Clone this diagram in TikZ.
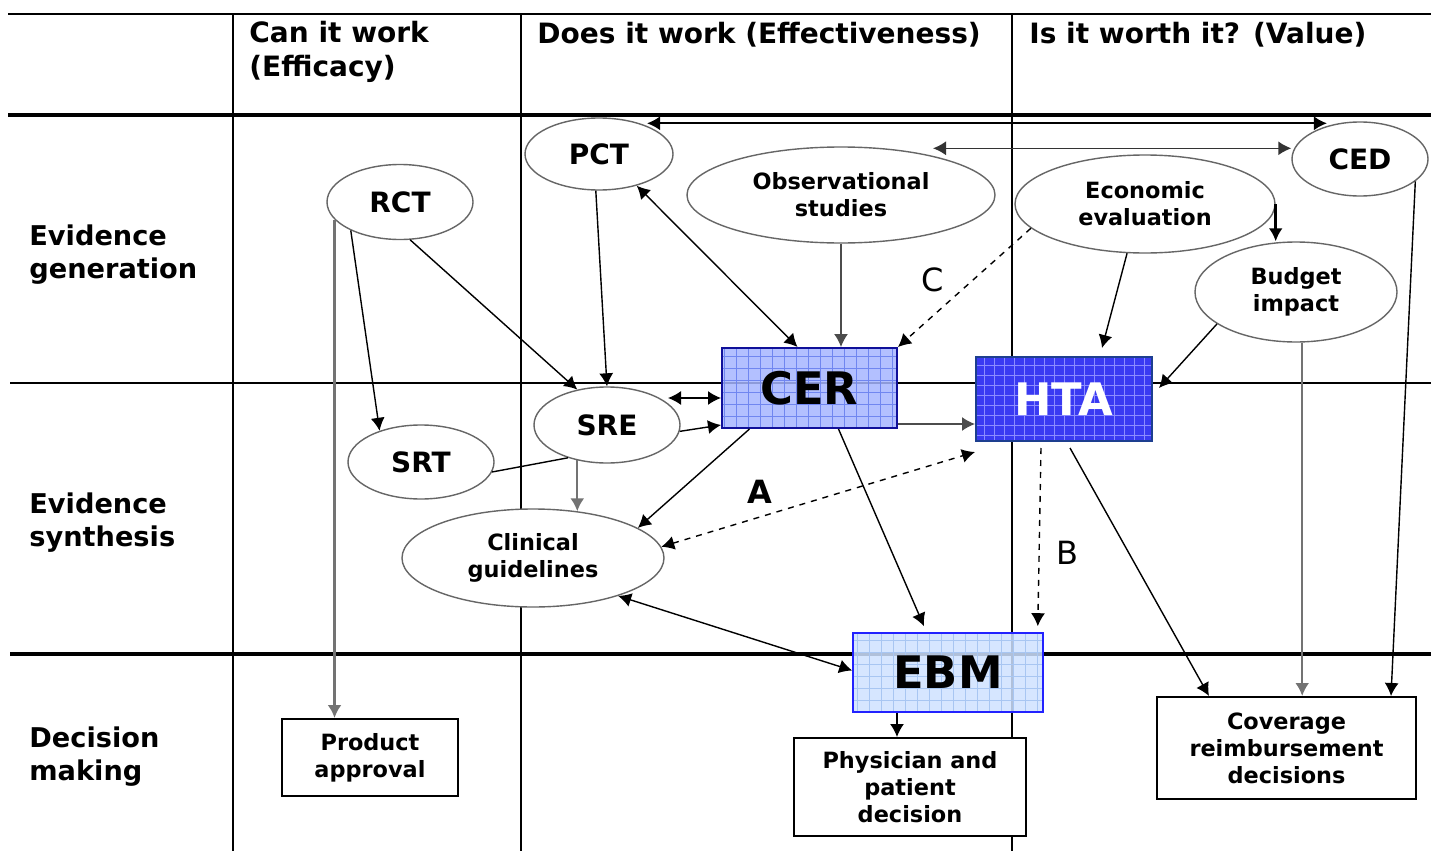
\documentclass[tikz,border=0pt]{standalone}
\usepackage{fontspec}
\setmainfont{DejaVu Sans}
\usetikzlibrary{arrows.meta,shapes.geometric,calc}
\newcommand\fHdr{\fontsize{14}{17}\selectfont}
\newcommand\fRow{\fontsize{13.6}{16.5}\selectfont}
\newcommand\fSml{\fontsize{11.2}{13.5}\selectfont}
\newcommand\fMid{\fontsize{14}{17}\selectfont}
\newcommand\fBig{\fontsize{22.4}{26}\selectfont}
\newcommand\fLbl{\fontsize{16}{19}\selectfont}
\definecolor{cerfill}{HTML}{A6B6FF}
\definecolor{cergrid}{HTML}{7086F0}
\definecolor{cerdraw}{HTML}{10109A}
\definecolor{htafill}{HTML}{3A3AF2}
\definecolor{htagrid}{HTML}{8C8CFF}
\definecolor{htadraw}{HTML}{1D3F8F}
\definecolor{ebmfill}{HTML}{CFE2FF}
\definecolor{ebmgrid}{HTML}{A8C6F2}
\definecolor{ebmdraw}{HTML}{2222FF}
\begin{document}
\begin{tikzpicture}[x=0.5pt,y=-0.5pt,
  every node/.style={font=\bfseries},
  ell/.style={ellipse, draw=black!60, line width=0.7pt, fill=white, inner sep=0pt, align=center},
  dbox/.style={rectangle, draw=black, line width=1pt, fill=white, align=center, inner sep=0pt, font=\bfseries\fSml},
  gbox/.style={rectangle, inner sep=0pt, font=\bfseries\fBig},
  arr/.style={arrows={-Latex[length=6.5pt,width=7pt]}, line width=0.7pt},
  darr/.style={arrows={Latex[length=6.5pt,width=7pt]-Latex[length=6.5pt,width=7pt]}, line width=0.7pt},
  tline/.style={line width=1pt},
  Tline/.style={line width=1.9pt},
  lbl/.style={inner sep=0pt, anchor=west, align=left},
]
% background / bounding box
\fill[white] (0,0) rectangle (1431,851);
\useasboundingbox (0,0) rectangle (1431,851);

% table lines
\draw[tline] (8,14) -- (1431,14);
\draw[Tline] (8,115) -- (1431,115);
\draw[tline] (10,383) -- (1431,383);
\draw[Tline] (10,654) -- (1431,654);
\draw[tline] (233,14) -- (233,851);
\draw[tline] (521,14) -- (521,851);
\draw[tline] (1012,14) -- (1012,851);

% headers
\node[lbl, font=\bfseries\fHdr] (h1) at (249,52) {Can it work\\(Efficacy)};
\node[lbl, font=\bfseries\fHdr] (h2) at (537,35) {Does it work (Effectiveness)};
\node[lbl, font=\bfseries\fHdr] (h3) at (1029,35) {Is it worth it? (Value)};
\node[lbl, font=\bfseries\fRow] (r1) at (29,255) {Evidence\\generation};
\node[lbl, font=\bfseries\fRow] (r2) at (29,523) {Evidence\\synthesis};
\node[lbl, font=\bfseries\fRow] (r3) at (29,757) {Decision\\making};

% ellipse nodes
\node[ell, font=\bfseries\fMid, minimum width=73pt, minimum height=37.5pt] (RCT) at (400,202) {RCT};
\node[ell, font=\bfseries\fMid, minimum width=73pt, minimum height=37pt] (SRT) at (421,462) {SRT};
\node[ell, font=\bfseries\fMid, minimum width=73pt, minimum height=38pt] (SRE) at (607,425) {SRE};
\node[ell, font=\bfseries\fMid, minimum width=74pt, minimum height=36pt] (PCT) at (599,154) {PCT};
\node[ell, font=\bfseries\fSml, minimum width=154pt, minimum height=48pt] (Obs) at (841,195) {Observational\\studies};
\node[ell, font=\bfseries\fSml, minimum width=130pt, minimum height=49pt] (Econ) at (1145,204) {Economic\\evaluation};
\node[ell, font=\bfseries\fMid, minimum width=68pt, minimum height=37pt] (CED) at (1360,159) {CED};
\node[ell, font=\bfseries\fSml, minimum width=101pt, minimum height=50pt] (Budget) at (1296,292) {Budget\\impact};
\node[ell, font=\bfseries\fSml, minimum width=131pt, minimum height=49pt] (Clin) at (533,558) {Clinical\\guidelines};

% coloured boxes
\node[gbox, draw=cerdraw, line width=1pt, fill=cerfill, fill opacity=0.85, text opacity=1,
  minimum width=87.5pt, minimum height=40pt,
  path picture={\draw[cergrid, line width=0.45pt, step=6pt] (path picture bounding box.south west) grid (path picture bounding box.north east);}]
  (CER) at (809.5,388) {CER};
\node[gbox, draw=htadraw, line width=1pt, fill=htafill, text=white,
  minimum width=88pt, minimum height=42pt,
  path picture={\draw[htagrid, line width=0.45pt, step=5pt] (path picture bounding box.south west) grid (path picture bounding box.north east);}]
  (HTA) at (1064,399) {HTA};
\node[gbox, draw=ebmdraw, line width=0.8pt, fill=ebmfill, fill opacity=0.85, text opacity=1,
  minimum width=95pt, minimum height=39.5pt,
  path picture={\draw[ebmgrid, line width=0.45pt, step=6pt] (path picture bounding box.south west) grid (path picture bounding box.north east);}]
  (EBM) at (948,672.5) {EBM};

% decision boxes
\node[dbox, minimum width=88pt, minimum height=38.5pt] (Prod) at (370,757.5) {Product\\approval};
\node[dbox, minimum width=116pt, minimum height=49pt] (Phys) at (910,787) {Physician and\\patient\\decision};
\node[dbox, minimum width=129.5pt, minimum height=51pt] (Cov) at (1286.5,748) {Coverage\\reimbursement\\decisions};

% labels
\node[font=\bfseries\fLbl, inner sep=0pt] (lA) at (760,492) {A};
\node[font=\mdseries\fLbl, inner sep=0pt] (lB) at (1067,553) {B};
\node[font=\mdseries\fLbl, inner sep=0pt] (lC) at (933,280) {C};

% helper coordinates on node borders
\coordinate (pcTop) at ([xshift=24pt,yshift=-3pt]PCT.north);
\coordinate (obTop) at ([xshift=46pt,yshift=-1pt]Obs.north);

% connectors
\draw[darr, line width=0.9pt] (pcTop) -- (pcTop -| CED.135);
\draw[darr, draw=black!80] (obTop) -- (obTop -| CED.west);
\draw[arr, draw=black!55, line width=1.4pt] (RCT.195) -- (RCT.195 |- Prod.north);
\draw[arr] (RCT.210) -- (SRT.143);
\draw[arr] (RCT.285) -- (SRE.130);
\draw[arr] (PCT.265) -- (SRE.north);
\draw[darr] (PCT.320) -- ([xshift=-6pt]CER.north);
\draw[arr, draw=black!70] (Obs.south) -- (Obs.south |- CER.north);
\draw[arr, dashed] (Econ.192) -- (CER.north east);
\draw[arr, line width=1.3pt] (Econ.east) -- (Econ.east |- Budget.north);
\draw[arr] (Econ.250) -- ([xshift=19pt,yshift=4pt]HTA.north);
\draw[arr] (Budget.202) -- ([yshift=5.5pt,xshift=3pt]HTA.east);
\draw[darr] ([yshift=-5pt]CER.west) -- ([yshift=-5pt,xshift=-26.5pt]CER.west);
\draw[arr] (SRE.355) -- ([yshift=-18.5pt]CER.west);
\draw[arr, draw=black!55, line width=1.2pt] (SRE.230) -- (SRE.230 |- Clin.46);
\draw[line width=0.7pt] (SRT.352) -- (SRE.220);
\draw[arr] ([xshift=-30pt]CER.south) -- (Clin.16);
\draw[arr, draw=black!70] ([yshift=-18pt]CER.east) -- ([yshift=-18pt]CER.east -| HTA.west);
\draw[darr, dashed] (Clin.5) -- ([yshift=-5pt]HTA.south west);
\draw[arr] ([xshift=14.5pt]CER.south) -- ([xshift=-12pt,yshift=3pt]EBM.north);
\draw[arr, dashed] ([xshift=-11.5pt,yshift=-3pt]HTA.south) -- ([xshift=-3pt,yshift=3pt]EBM.north east);
\draw[arr] ([xshift=3pt,yshift=-3pt]HTA.south) -- ([xshift=26.5pt]Cov.north west);
\draw[arr, draw=black!55, line width=1.2pt] (Budget.277) -- (Budget.277 |- Cov.north);
\draw[arr] (CED.338) -- ([xshift=-13pt]Cov.north east);
\draw[darr] (Clin.336) -- ([yshift=1pt]EBM.west);
\draw[arr] ([xshift=-25.5pt]EBM.south) -- ([xshift=-25.5pt]EBM.south |- Phys.north);
\end{tikzpicture}
\end{document}
